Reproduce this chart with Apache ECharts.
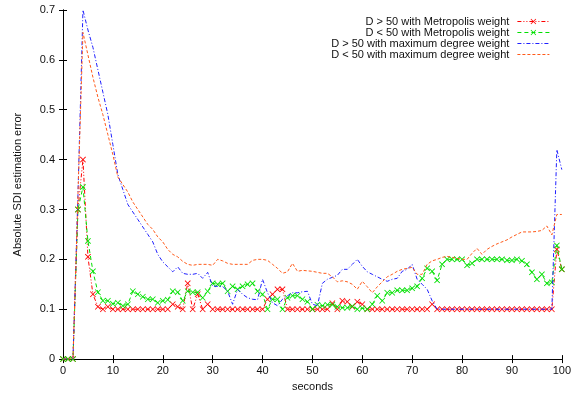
<!DOCTYPE html>
<html>
<head>
<meta charset="utf-8">
<script src="https://cdn.jsdelivr.net/npm/echarts@6/dist/echarts.min.js"></script>
<style>html,body{margin:0;padding:0;background:#fff}#c{width:574px;height:397px}</style>
</head>
<body>
<div id="c"></div>
<script>
// seconds 0..100
const seconds = Array.from({length: 101}, (_, i) => i);
const seriesNames = [
  'D > 50 with Metropolis weight',
  'D < 50 with Metropolis weight',
  'D > 50 with maximum degree weight',
  'D < 50 with maximum degree weight'
];
const xTicks = [0,10,20,30,40,50,60,70,80,90,100];
const yTicks = [0,0.1,0.2,0.3,0.4,0.5,0.6,0.7];

const metroHigh = [
  0,0,0,0.3,0.4,0.205,0.13,0.105,0.1,0.105,
  0.1,0.1,0.1,0.1,0.1,0.1,0.1,0.1,0.1,0.1,
  0.1,0.1,0.11,0.105,0.1,0.152,0.1,0.13,0.1,0.11,
  0.1,0.1,0.1,0.1,0.1,0.1,0.1,0.1,0.1,0.1,
  0.1,0.12,0.13,0.14,0.14,0.1,0.1,0.1,0.1,0.1,
  0.1,0.1,0.1,0.1,0.112,0.1,0.117,0.115,0.105,0.115,
  0.11,0.1,0.1,0.1,0.1,0.1,0.1,0.1,0.1,0.1,
  0.1,0.1,0.1,0.1,0.11,0.1,0.1,0.1,0.1,0.1,
  0.1,0.1,0.1,0.1,0.1,0.1,0.1,0.1,0.1,0.1,
  0.1,0.1,0.1,0.1,0.1,0.1,0.1,0.1,0.1,0.22,
  0.18
];
const metroLow = [
  0,0,0,0.3,0.345,0.237,0.176,0.134,0.117,0.117,
  0.111,0.113,0.107,0.11,0.136,0.13,0.125,0.12,0.12,0.113,
  0.117,0.119,0.136,0.134,0.117,0.136,0.134,0.134,0.123,0.136,
  0.152,0.15,0.152,0.136,0.146,0.14,0.146,0.15,0.152,0.136,
  0.13,0.1,0.12,0.12,0.1,0.123,0.127,0.127,0.12,0.115,
  0.1,0.109,0.107,0.109,0.109,0.105,0.103,0.103,0.106,0.1,
  0.102,0.1,0.11,0.127,0.117,0.133,0.133,0.138,0.138,0.138,
  0.142,0.146,0.162,0.182,0.176,0.158,0.19,0.2,0.2,0.2,
  0.2,0.188,0.192,0.2,0.2,0.2,0.2,0.2,0.2,0.198,
  0.198,0.2,0.197,0.19,0.174,0.16,0.17,0.152,0.154,0.228,
  0.18
];
const maxDegHigh = [
  0,0,0,0.33,0.70,0.66,0.625,0.58,0.535,0.49,
  0.43,0.37,0.34,0.31,0.295,0.28,0.265,0.25,0.235,0.21,
  0.195,0.185,0.175,0.185,0.172,0.17,0.17,0.172,0.162,0.174,
  0.146,0.146,0.146,0.136,0.11,0.14,0.13,0.123,0.12,0.119,
  0.16,0.133,0.113,0.107,0.12,0.127,0.133,0.133,0.135,0.136,
  0.11,0.107,0.152,0.16,0.164,0.168,0.18,0.18,0.19,0.2,
  0.186,0.175,0.17,0.165,0.16,0.156,0.16,0.162,0.176,0.18,
  0.19,0.16,0.15,0.14,0.117,0.1,0.1,0.1,0.1,0.1,
  0.1,0.1,0.1,0.1,0.1,0.1,0.1,0.1,0.1,0.1,
  0.1,0.1,0.1,0.1,0.1,0.1,0.1,0.1,0.1,0.42,
  0.38
];
const maxDegLow = [
  0,0,0,0.33,0.655,0.61,0.565,0.525,0.49,0.45,
  0.41,0.365,0.35,0.335,0.315,0.3,0.285,0.27,0.26,0.245,
  0.235,0.22,0.21,0.205,0.196,0.19,0.188,0.19,0.19,0.19,
  0.188,0.2,0.197,0.192,0.19,0.19,0.19,0.19,0.198,0.2,
  0.2,0.198,0.19,0.182,0.172,0.175,0.192,0.176,0.178,0.177,
  0.176,0.174,0.172,0.172,0.165,0.155,0.157,0.155,0.15,0.14,
  0.156,0.145,0.133,0.145,0.155,0.165,0.17,0.176,0.18,0.182,
  0.184,0.17,0.17,0.19,0.197,0.2,0.204,0.206,0.204,0.202,
  0.2,0.2,0.212,0.222,0.21,0.22,0.226,0.231,0.235,0.239,
  0.245,0.25,0.255,0.255,0.255,0.256,0.258,0.267,0.249,0.29,
  0.29
];

const pairs = arr => seconds.map((s, i) => [s, arr[i]]);
const X = 'path://M0,1L1,0L5,4L9,0L10,1L6,5L10,9L9,10L5,6L1,10L0,9L4,5Z';
const FONT = 'Liberation Sans';
const colors = ['#ff0000', '#00e000', '#2020ff', '#ff5a1a'];
const dashes = [[4,2,1,2,1,2], [4,3], [4,2,1,2], [3,2]];
const values = [metroHigh, metroLow, maxDegHigh, maxDegLow];

const series = values.map((arr, k) => ({
  name: seriesNames[k],
  type: 'line',
  data: pairs(arr),
  xAxisIndex: 0, yAxisIndex: 0,
  symbol: k < 2 ? X : 'none',
  symbolSize: 6,
  showSymbol: k < 2,
  showAllSymbol: true,
  lineStyle: {color: colors[k], width: 1, type: dashes[k]},
  itemStyle: {color: colors[k]},
  emphasis: {disabled: true},
  animation: false,
  z: 2 + k
}));

const legends = seriesNames.map((n, k) => {
  const lg = {
    data: [n],
    right: 24,
    top: 16 + 11 * k,
    align: 'right',
    itemWidth: 32,
    itemHeight: 7,
    itemGap: 0,
    padding: 0,
    lineStyle: {color: colors[k], width: 1.2, type: dashes[k], opacity: 1},
    textStyle: {fontFamily: FONT, fontSize: 11, color: '#111', padding: [0, 3, 0, 0]},
    selectedMode: false
  };
  if (k >= 2) lg.itemStyle = {opacity: 0};
  return lg;
});

const chart = echarts.init(document.getElementById('c'), null, {renderer: 'canvas'});
chart.setOption({
  animation: false,
  backgroundColor: '#fff',
  grid: {left: 63, right: 11, top: 10, bottom: 33, containLabel: false},
  legend: legends,
  xAxis: [{
    type: 'value', min: xTicks[0], max: xTicks[xTicks.length - 1], interval: 10,
    name: 'seconds', nameLocation: 'middle', nameGap: 19,
    nameTextStyle: {fontFamily: FONT, fontSize: 11, color: '#111'},
    axisLine: {lineStyle: {color: '#000', width: 1}},
    axisTick: {inside: true, length: 4, lineStyle: {color: '#000'}},
    axisLabel: {fontFamily: FONT, fontSize: 11, color: '#111', margin: 6},
    splitLine: {show: false}
  }, {
    type: 'value', min: 0, max: 100, interval: 10, position: 'top',
    axisLine: {lineStyle: {color: '#000', width: 1}},
    axisTick: {inside: true, length: 4, lineStyle: {color: '#000'}},
    axisLabel: {show: false}, splitLine: {show: false}
  }],
  yAxis: [{
    type: 'value', min: yTicks[0], max: yTicks[yTicks.length - 1], interval: 0.1,
    name: 'Absolute SDI estimation error', nameLocation: 'middle', nameGap: 40,
    nameTextStyle: {fontFamily: FONT, fontSize: 11, color: '#111'},
    axisLine: {show: true, lineStyle: {color: '#000', width: 1}},
    axisTick: {show: true, inside: true, length: 4, lineStyle: {color: '#000'}},
    axisLabel: {fontFamily: FONT, fontSize: 11, color: '#111', margin: 8},
    splitLine: {show: false}
  }, {
    type: 'value', min: 0, max: 0.7, interval: 0.1, position: 'right',
    axisLine: {show: true, lineStyle: {color: '#000', width: 1}},
    axisTick: {show: true, inside: true, length: 4, lineStyle: {color: '#000'}},
    axisLabel: {show: false}, splitLine: {show: false}
  }],
  series: series
});
</script>
</body>
</html>
